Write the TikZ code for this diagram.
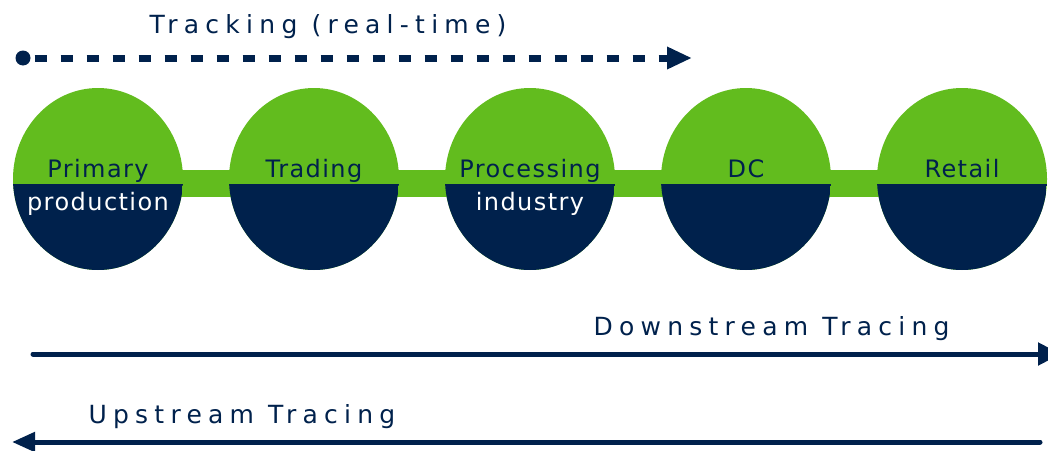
\documentclass[tikz,border=0pt]{standalone}
\usepackage{fontspec}
\setmainfont{DejaVu Sans}
\newfontfamily\stagefont[LetterSpace=6]{DejaVu Sans}
\newfontfamily\flowfont[LetterSpace=25]{DejaVu Sans}
\usetikzlibrary{arrows.meta,shapes.geometric,backgrounds}
\definecolor{chaingreen}{RGB}{98,188,30}
\definecolor{chainnavy}{RGB}{0,33,76}

\begin{document}
\begin{tikzpicture}[x=1pt, y=-1pt,
		stage/.style={ellipse, minimum width=170pt, minimum height=182pt, inner sep=0pt, fill=chaingreen,
			path picture={\fill[chainnavy] ([yshift=-5pt]path picture bounding box.west) rectangle (path picture bounding box.south east);}},
		toplabel/.style={anchor=base, text=chainnavy, font=\stagefont\fontsize{24}{28}\selectfont},
		bottomlabel/.style={toplabel, text=white},
		link/.style={chaingreen, line width=27pt},
		flowlabel/.style={anchor=base west, text=chainnavy, font=\flowfont\fontsize{25}{30}\selectfont},
		flow/.style={chainnavy, line width=5pt, line cap=round},
		track/.style={chainnavy, line width=7pt, dash pattern=on 12pt off 14pt, dash phase=-4pt},
		trackdot/.style={circle, fill=chainnavy, minimum size=15pt, inner sep=0pt},
	]
		\useasboundingbox (0,0) rectangle (1048,450);
		
		% supply chain stages
		\node[stage] (primary) at (98,179) {};
		\node[stage] (trading) at (314,179) {};
		\node[stage] (processing) at (530,179) {};
		\node[stage] (dc) at (746,179) {};
		\node[stage] (retail) at (962,179) {};
		
		\begin{scope}[on background layer]
			\draw[link] ([yshift=-4.5pt]primary.center) -- ([yshift=-4.5pt]retail.center);
		\end{scope}
		
		\node[toplabel] (primary-top) at (98,177) {Primary};
		\node[bottomlabel] (primary-bottom) at (98,210) {production};
		\node[toplabel] (trading-top) at (314,177) {Trading};
		\node[toplabel] (processing-top) at (530,177) {Processing};
		\node[bottomlabel] (processing-bottom) at (530,210) {industry};
		\node[toplabel] (dc-top) at (746,177) {DC};
		\node[toplabel] (retail-top) at (962,177) {Retail};
		
		% tracking and tracing
		\node[trackdot] (track-start) at (23,58) {};
		\coordinate (track-end) at (692,58);
		\draw[track, -{Triangle[length=25pt,width=21pt]}] (track-start) -- (track-end);
		\node[flowlabel] (tracking) at (146,33) {Tracking (real-time)};
		
		\coordinate (down-start) at (33,354);
		\coordinate (down-end) at (1061,354);
		\draw[flow, -{Triangle[length=23pt,width=22pt]}] (down-start) -- (down-end);
		\node[flowlabel] (downstream) at (590,335) {Downstream Tracing};
		
		\coordinate (up-start) at (1040,442);
		\coordinate (up-end) at (12,442);
		\draw[flow, -{Triangle[length=23pt,width=19pt]}] (up-start) -- (up-end);
		\node[flowlabel] (upstream) at (85,423) {Upstream Tracing};
	\end{tikzpicture}
\end{document}
